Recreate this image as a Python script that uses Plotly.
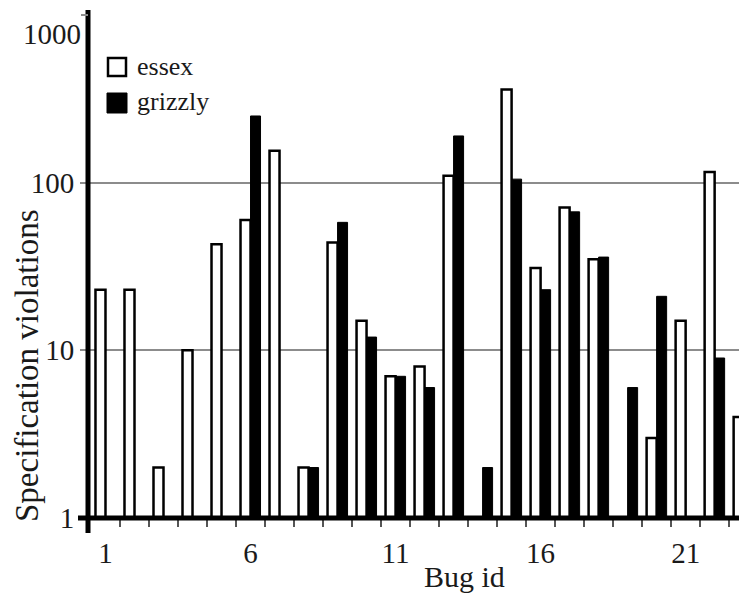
import plotly.graph_objects as go

bug_ids = list(range(1, 24))
essex = [23, 23, 2, 10, 43, 60, 155, 2, 44, 15, 7, 8, 110, None, 360, 31, 71, 35, None, 3, 15, 116, 4]
grizzly = [None, None, None, None, None, 250, None, 2, 58, 12, 7, 6, 190, 2, 105, 23, 67, 36, 6, 21, None, 9, None]
x_tick_vals = [1, 6, 11, 16, 21]
y_tick_vals = [1, 10, 100]
series_names = ["essex", "grizzly"]

W, H = 739, 594
L, R, T, B = 88, 0, 10, 76
PW, PH = W - L - R, H - T - B
FONT = "'Liberation Serif', 'Times New Roman', 'DejaVu Serif', serif"
TXT = "#1a1a1a"
GRID = "#8c8c8c"

def px_x(px):
    return (px - L) / PW

def px_y(py):
    return (H - B - py) / PH

fig = go.Figure()
fig.add_trace(go.Bar(x=bug_ids, y=essex, name=series_names[0],
                     marker=dict(color="white", line=dict(color="black", width=2.5)),
                     showlegend=False))
fig.add_trace(go.Bar(x=bug_ids, y=grizzly, name=series_names[1],
                     marker=dict(color="black", line=dict(color="black", width=1)),
                     showlegend=False))

ymax = 3.03
fig.update_layout(
    width=W, height=H, autosize=False,
    margin=dict(l=L, r=R, t=T, b=B),
    paper_bgcolor="white", plot_bgcolor="white",
    barmode="group", bargap=0.31, bargroupgap=0,
    font=dict(family=FONT, color=TXT),
    xaxis=dict(
        range=[0.397, 22.84], tickmode="array", tickvals=x_tick_vals,
        ticktext=[str(v) for v in x_tick_vals],
        ticks="outside", ticklen=9, tickcolor="rgba(0,0,0,0)",
        tickfont=dict(family=FONT, size=29, color=TXT),
        showgrid=False, showline=False, zeroline=False,
        minor=dict(tickvals=[b + 0.5 for b in bug_ids], ticks="outside",
                   ticklen=8, tickcolor="#555555", tickwidth=2, showgrid=False),
    ),
    yaxis=dict(
        type="log", range=[0, ymax], tickmode="array", tickvals=y_tick_vals,
        ticktext=[str(v) for v in y_tick_vals],
        ticks="outside", ticklen=7, tickcolor=GRID, tickwidth=2,
        tickfont=dict(family=FONT, size=29, color=TXT),
        showgrid=True, gridcolor=GRID, gridwidth=2,
        showline=False, zeroline=False,
    ),
)

shapes = [
    dict(type="line", xref="paper", yref="paper", x0=0, x1=0,
         y0=px_y(533), y1=1.0, line=dict(color="black", width=5), layer="above"),
    dict(type="line", xref="paper", yref="paper", x0=px_x(78), x1=1.0,
         y0=0, y1=0, line=dict(color="black", width=5), layer="above"),
    dict(type="line", xref="paper", yref="paper", x0=px_x(81), x1=0,
         y0=3 / ymax, y1=3 / ymax, line=dict(color=GRID, width=2), layer="above"),
    dict(type="rect", xref="paper", yref="paper", x0=px_x(108), x1=px_x(126),
         y0=px_y(76), y1=px_y(58), fillcolor="white",
         line=dict(color="black", width=2.5), layer="above"),
    dict(type="rect", xref="paper", yref="paper", x0=px_x(107), x1=px_x(127),
         y0=px_y(113), y1=px_y(93), fillcolor="black",
         line=dict(color="black", width=1), layer="above"),
]

annotations = [
    dict(text="1000", xref="paper", yref="paper", x=px_x(83), y=px_y(34),
         xanchor="right", yanchor="middle", showarrow=False,
         font=dict(family=FONT, size=29, color=TXT)),
    dict(text="Specification violations", xref="paper", yref="paper",
         x=px_x(27), y=px_y(366), textangle=-90, xanchor="center", yanchor="middle",
         showarrow=False, font=dict(family=FONT, size=33, color=TXT)),
    dict(text="Bug id", xref="paper", yref="paper", x=px_x(464), y=px_y(576),
         xanchor="center", yanchor="middle", showarrow=False,
         font=dict(family=FONT, size=30, color=TXT)),
    dict(text=series_names[0], xref="paper", yref="paper", x=px_x(135), y=px_y(66),
         xanchor="left", yanchor="middle", showarrow=False,
         font=dict(family=FONT, size=26, color=TXT)),
    dict(text=series_names[1], xref="paper", yref="paper", x=px_x(135), y=px_y(101),
         xanchor="left", yanchor="middle", showarrow=False,
         font=dict(family=FONT, size=26, color=TXT)),
]
fig.update_layout(shapes=shapes, annotations=annotations)

fig.write_html("out.html", config={"displayModeBar": False},
               post_script="document.body.style.margin='0px';")
